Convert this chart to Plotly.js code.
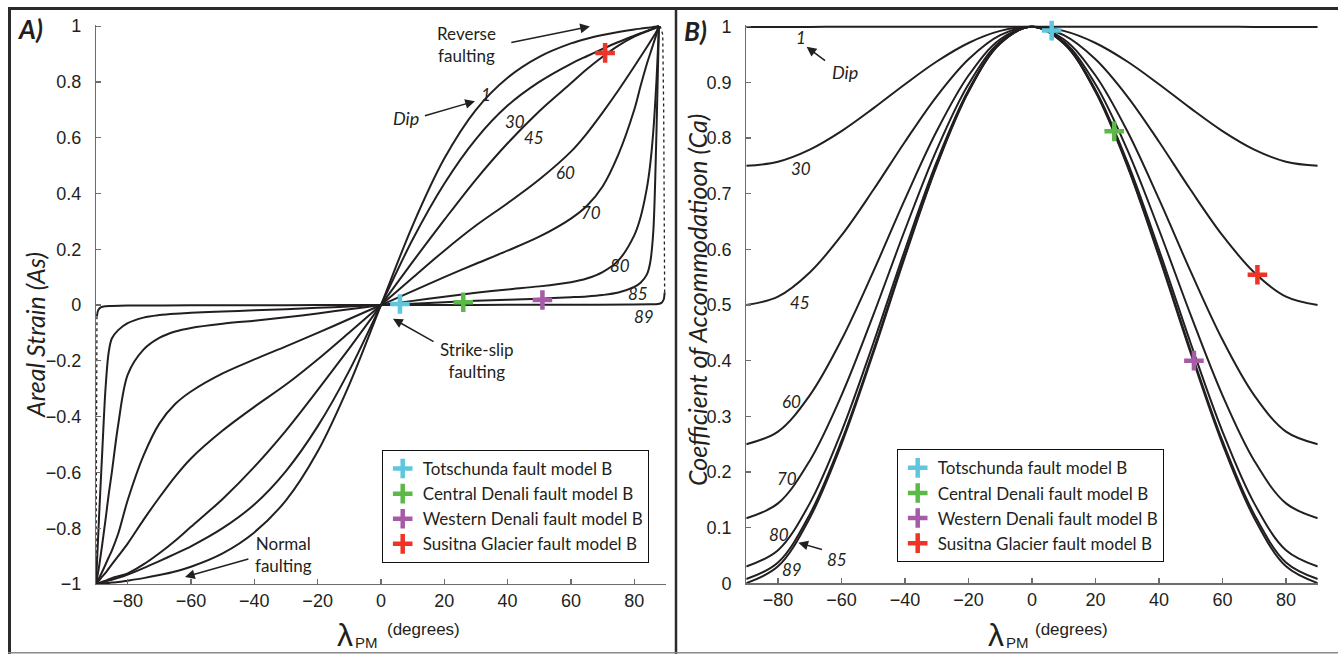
<!DOCTYPE html>
<html><head><meta charset="utf-8">
<script src="https://cdn.plot.ly/plotly-3.0.1.min.js"></script>
<style>html,body{margin:0;padding:0;background:#fff}#chart{width:1338px;height:654px}</style>
</head><body><div id="chart"></div>
<script>
// ---------- data ----------
const dipLabels = ["1", "30", "45", "60", "70", "80", "85", "89"];

// Panel A : areal strain As vs lambda_PM
const lamA = [-90,-89,-88,-87,-86,-85,-83,-80,-75,-70,-65,-60,-50,-40,-30,-20,-10,0,
              10,20,30,40,50,60,65,70,75,80,82,84,85,86,87,87.8];
const asDip1  = [-1,-0.999,-0.998,-0.997,-0.996,-0.995,-0.993,-0.988,-0.979,-0.968,-0.955,-0.938,-0.89,-0.815,-0.70,-0.525,-0.285,0,
                 0.285,0.525,0.70,0.815,0.89,0.938,0.955,0.968,0.979,0.988,0.991,0.994,0.995,0.997,0.999,1];
const asDip30 = [-1,-0.997,-0.994,-0.991,-0.988,-0.985,-0.978,-0.966,-0.943,-0.918,-0.892,-0.865,-0.80,-0.715,-0.595,-0.435,-0.235,0,
                 0.235,0.435,0.595,0.715,0.80,0.865,0.892,0.918,0.943,0.966,0.975,0.983,0.987,0.991,0.996,1];
const asDip45 = [-1,-0.996,-0.992,-0.988,-0.984,-0.979,-0.972,-0.962,-0.93,-0.89,-0.845,-0.795,-0.695,-0.58,-0.45,-0.305,-0.155,0,
                 0.155,0.305,0.45,0.58,0.695,0.795,0.845,0.89,0.93,0.962,0.972,0.981,0.986,0.99,0.995,1];
const asDip60 = [-1,-0.987,-0.973,-0.96,-0.945,-0.93,-0.90,-0.855,-0.77,-0.69,-0.615,-0.55,-0.45,-0.365,-0.285,-0.195,-0.098,0,
                 0.098,0.195,0.285,0.365,0.45,0.55,0.615,0.69,0.77,0.855,0.89,0.925,0.943,0.961,0.98,1];
const asDip70 = [-1,-0.978,-0.955,-0.93,-0.905,-0.88,-0.82,-0.70,-0.54,-0.425,-0.355,-0.31,-0.245,-0.195,-0.148,-0.10,-0.05,0,
                 0.05,0.10,0.148,0.195,0.245,0.31,0.355,0.425,0.54,0.70,0.785,0.865,0.90,0.935,0.97,1];
const asDip80 = [-1,-0.935,-0.855,-0.77,-0.68,-0.60,-0.43,-0.25,-0.16,-0.118,-0.095,-0.082,-0.067,-0.056,-0.044,-0.03,-0.015,0,
                 0.015,0.03,0.044,0.056,0.067,0.082,0.095,0.118,0.16,0.25,0.315,0.42,0.50,0.62,0.80,1];
const asDip85 = [-1,-0.75,-0.52,-0.30,-0.17,-0.12,-0.09,-0.065,-0.045,-0.036,-0.031,-0.028,-0.023,-0.019,-0.015,-0.01,-0.005,0,
                 0.005,0.01,0.015,0.019,0.023,0.028,0.031,0.036,0.045,0.065,0.08,0.11,0.15,0.26,0.61,1];
// dip 89: flat part, plus the two near-vertical (dotted) ends
const lam89  = [-89.7,-89.3,-88.5,-87,-85,-80,-60,-40,-20,0,20,40,60,80,85,87.5,88.6,89.3,89.6];
const asDip89 = [-0.04,-0.018,-0.008,-0.004,-0.003,-0.002,-0.001,-0.001,0,0,0,0.001,0.001,0.002,0.003,0.004,0.008,0.02,0.045];
const lam89Left  = [-89.7,-89.8,-89.9,-90];
const as89Left   = [-0.04,-0.35,-0.7,-1];
const lam89Right = [89.6,89.5,89.3,89.0,88.2];
const as89Right  = [0.045,0.35,0.7,0.97,1];

// Panel B : coefficient of accommodation Ca vs lambda_PM
const lamB = [-90,-80,-70,-60,-50,-40,-30,-20,-10,0,10,20,30,40,50,60,70,80,90];
const caDip1  = [0.9997,0.9997,0.9997,0.9998,0.9998,0.9999,0.9999,1,1,1,1,1,0.9999,0.9999,0.9998,0.9998,0.9997,0.9997,0.9997];
const caDip30 = [0.75,0.7575,0.7792,0.8125,0.8533,0.8967,0.9375,0.9708,0.9925,1,0.9925,0.9708,0.9375,0.8967,0.8533,0.8125,0.7792,0.7575,0.75];
const caDip45 = [0.5,0.5151,0.5585,0.625,0.7066,0.7934,0.875,0.9415,0.9849,1,0.9849,0.9415,0.875,0.7934,0.7066,0.625,0.5585,0.5151,0.5];
const caDip60 = [0.25,0.2726,0.3377,0.4375,0.5599,0.6901,0.8125,0.9123,0.9774,1,0.9774,0.9123,0.8125,0.6901,0.5599,0.4375,0.3377,0.2726,0.25];
const caDip70 = [0.117,0.1436,0.2203,0.3377,0.4818,0.6352,0.7792,0.8967,0.9734,1,0.9734,0.8967,0.7792,0.6352,0.4818,0.3377,0.2203,0.1436,0.117];
const caDip80 = [0.0302,0.0594,0.1436,0.2726,0.4309,0.5993,0.7575,0.8865,0.9708,1,0.9708,0.8865,0.7575,0.5993,0.4309,0.2726,0.1436,0.0594,0.0302];
const caDip85 = [0.0076,0.0375,0.1237,0.2557,0.4176,0.59,0.7519,0.8839,0.9701,1,0.9701,0.8839,0.7519,0.59,0.4176,0.2557,0.1237,0.0375,0.0076];
const caDip89 = [0.0003,0.0305,0.1173,0.2502,0.4133,0.5869,0.7501,0.8831,0.9699,1,0.9699,0.8831,0.7501,0.5869,0.4133,0.2502,0.1173,0.0305,0.0003];

// fault models (plus markers)
const faultNames = ["Totschunda fault model B","Central Denali fault model B","Western Denali fault model B","Susitna Glacier fault model B"];
const faultLamA = [6.0, 26.0, 51.0, 70.8];
const faultAs   = [0.004, 0.01, 0.018, 0.904];
const faultLamB = [6.2, 25.9, 51.0, 71.0];
const faultCa   = [0.993, 0.812, 0.400, 0.5545];

// ---------- styling ----------
const W = 1338, H = 654;
const px = x => x / W, py = y => 1 - y / H;
const INK = '#231f20';
const faultColors = ['#5fc6df', '#5cb947', '#a65ba6', '#ee3426'];
const lab = 'Lato, "Open Sans", sans-serif';
const helv = '"Liberation Sans", Arial, Helvetica, sans-serif';

const curveLine = {color: INK, width: 2, shape: 'spline', smoothing: 0.9};
const traces = [];
const aSeries = [asDip1, asDip30, asDip45, asDip60, asDip70, asDip80, asDip85];
aSeries.forEach(ys => traces.push({x: lamA, y: ys, xaxis: 'x', yaxis: 'y', mode: 'lines',
  line: curveLine, showlegend: false, hoverinfo: 'skip'}));
traces.push({x: lam89, y: asDip89, xaxis: 'x', yaxis: 'y', mode: 'lines', line: curveLine, showlegend: false, hoverinfo: 'skip'});
traces.push({x: lam89Left, y: as89Left, xaxis: 'x', yaxis: 'y', mode: 'lines', line: {color: INK, width: 1.3, dash: 'dot'}, showlegend: false, hoverinfo: 'skip'});
traces.push({x: lam89Right, y: as89Right, xaxis: 'x', yaxis: 'y', mode: 'lines', line: {color: INK, width: 1.3, dash: 'dot'}, showlegend: false, hoverinfo: 'skip'});

const bSeries = [caDip1, caDip30, caDip45, caDip60, caDip70, caDip80, caDip85, caDip89];
bSeries.forEach(ys => traces.push({x: lamB, y: ys, xaxis: 'x2', yaxis: 'y2', mode: 'lines',
  line: {color: INK, width: 2, shape: 'spline', smoothing: 1}, showlegend: false, hoverinfo: 'skip'}));

faultNames.forEach((n, i) => {
  const mk = {symbol: 'cross-thin', size: 14, line: {color: faultColors[i], width: 4.5}, color: faultColors[i]};
  traces.push({x: [faultLamA[i]], y: [faultAs[i]], xaxis: 'x', yaxis: 'y', mode: 'markers', name: n,
    marker: mk, legend: 'legend', showlegend: true, cliponaxis: false});
  traces.push({x: [faultLamB[i]], y: [faultCa[i]], xaxis: 'x2', yaxis: 'y2', mode: 'markers', name: n,
    marker: mk, legend: 'legend2', showlegend: true, cliponaxis: false});
});

const axisCommon = {
  showline: true, linecolor: '#6d6d6d', linewidth: 1.2, ticks: 'inside', ticklen: 5, tickwidth: 1.2,
  tickcolor: '#6d6d6d', showgrid: false, zeroline: false, tickfont: {family: helv, size: 18, color: INK},
  fixedrange: true
};
const xTicks = [-80,-60,-40,-20,0,20,40,60,80];
const xTickText = ['\u221280','\u221260','\u221240','\u221220','0','20','40','60','80'];

const layout = {
  width: W, height: H, margin: {l: 0, r: 0, t: 0, b: 0}, paper_bgcolor: '#fff', plot_bgcolor: 'rgba(0,0,0,0)',
  xaxis: Object.assign({}, axisCommon, {domain: [px(96), px(665.9)], range: [-90, 90], anchor: 'y',
    tickvals: xTicks, ticktext: xTickText}),
  yaxis: Object.assign({}, axisCommon, {domain: [py(584), py(25)], range: [-1, 1.004], anchor: 'x',
    tickvals: [-1,-0.8,-0.6,-0.4,-0.2,0,0.2,0.4,0.6,0.8,1],
    ticktext: ['\u22121','\u22120.8','\u22120.6','\u22120.4','\u22120.2','0','0.2','0.4','0.6','0.8','1'],
    ticklabelstandoff: 10}),
  xaxis2: Object.assign({}, axisCommon, {domain: [px(746.25), px(1317.75)], range: [-90, 90], anchor: 'y2',
    tickvals: xTicks, ticktext: xTickText}),
  yaxis2: Object.assign({}, axisCommon, {domain: [py(583.3), py(24.5)], range: [0, 1.004], anchor: 'x2',
    tickvals: [0,0.1,0.2,0.3,0.4,0.5,0.6,0.7,0.8,0.9,1],
    ticktext: ['0','0.1','0.2','0.3','0.4','0.5','0.6','0.7','0.8','0.9','1'],
    ticklabelstandoff: 10}),
  legend: {x: px(381.7), y: py(450), xanchor: 'left', yanchor: 'top', bgcolor: '#fff', bordercolor: '#111',
    borderwidth: 1, font: {family: lab, size: 17, color: INK}, tracegroupgap: 0, itemsizing: 'trace'},
  legend2: {x: px(896.7), y: py(449.3), xanchor: 'left', yanchor: 'top', bgcolor: '#fff', bordercolor: '#111',
    borderwidth: 1, font: {family: lab, size: 17, color: INK}, tracegroupgap: 0, itemsizing: 'trace'},
  shapes: [
    {type: 'line', xref: 'paper', yref: 'paper', x0: px(8), x1: 1, y0: py(8.5), y1: py(8.5), line: {color: '#2b2b2b', width: 3}},
    {type: 'line', xref: 'paper', yref: 'paper', x0: px(9.5), x1: px(9.5), y0: py(8), y1: py(654), line: {color: '#2b2b2b', width: 3}},
    {type: 'line', xref: 'paper', yref: 'paper', x0: px(676), x1: px(676), y0: py(8), y1: py(654), line: {color: '#2b2b2b', width: 2.5}},
    {type: 'line', xref: 'paper', yref: 'paper', x0: px(8), x1: 1, y0: py(652.8), y1: py(652.8), line: {color: '#8a8a8a', width: 1.5}}
  ],
  annotations: []
};

const A = layout.annotations;
const txt = (x, y, t, size, xr, yr, extra) => A.push(Object.assign({x, y, xref: xr, yref: yr, text: t, showarrow: false,
  font: {family: lab, size: size, color: INK}, xanchor: 'center', yanchor: 'middle'}, extra || {}));
const arrow = (hx, hy, tx, ty, xr, yr) => A.push({x: hx, y: hy, ax: tx, ay: ty, xref: xr, yref: yr, axref: xr, ayref: yr,
  text: '', showarrow: true, arrowhead: 2, arrowsize: 1.3, arrowwidth: 1.5, arrowcolor: INK, standoff: 0});

// panel letters
txt(px(30), py(29), '<b><i>A)</i></b>', 26, 'paper', 'paper');
txt(px(695), py(31), '<b><i>B)</i></b>', 26, 'paper', 'paper');

// axis titles
txt(px(35), py(335), '<i>Areal Strain (As)</i>', 25, 'paper', 'paper', {textangle: -90});
txt(px(697), py(300), '<i>Coefficient of Accommodatioon (Ca)</i>', 25, 'paper', 'paper', {textangle: -90});
[[345, 366, 423], [996, 1017, 1071]].forEach(p => {
  A.push({x: px(p[0]), y: py(635), xref: 'paper', yref: 'paper', text: '\u03bb', showarrow: false,
    font: {family: helv, size: 32, color: INK}, xanchor: 'center', yanchor: 'middle'});
  A.push({x: px(p[1]), y: py(642), xref: 'paper', yref: 'paper', text: 'PM', showarrow: false,
    font: {family: helv, size: 15, color: INK}, xanchor: 'center', yanchor: 'middle'});
  A.push({x: px(p[2]), y: py(629), xref: 'paper', yref: 'paper', text: '(degrees)', showarrow: false,
    font: {family: helv, size: 17, color: INK}, xanchor: 'center', yanchor: 'middle'});
});

// panel A labels
txt(27.1, 0.934, 'Reverse<br>faulting', 17, 'x', 'y');
arrow(66.0, 0.999, 40.7, 0.94, 'x', 'y');
txt(7.9, 0.671, '<i>Dip</i>', 18, 'x', 'y');
arrow(29.7, 0.731, 13.4, 0.677, 'x', 'y');
const aLabelPos = [[33.2,0.755],[42.3,0.659],[48.3,0.600],[58.4,0.474],[66.3,0.331],[75.5,0.141],[81.3,0.042],[83.1,-0.042]];
aLabelPos.forEach((p, i) => txt(p[0], p[1], '<i>' + dipLabels[i] + '</i>', 17, 'x', 'y'));
txt(30.2, -0.199, 'Strike-slip<br>faulting', 17, 'x', 'y');
arrow(3.8, -0.049, 17.1, -0.134, 'x', 'y');
txt(-30.9, -0.894, 'Normal<br>faulting', 17, 'x', 'y');
arrow(-61.9, -0.975, -41.4, -0.909, 'x', 'y');

// panel B labels
txt(-72.8, 0.980, '<i>1</i>', 17, 'x2', 'y2');
txt(-58.9, 0.919, '<i>Dip</i>', 18, 'x2', 'y2');
arrow(-71.0, 0.964, -64.7, 0.937, 'x2', 'y2');
const bLabelPos = [null,[-72.8,0.746],[-73.1,0.505],[-75.6,0.326],[-77.2,0.189],[-79.7,0.087],[-61.4,0.042],[-75.6,0.024]];
bLabelPos.forEach((p, i) => { if (p) txt(p[0], p[1], '<i>' + dipLabels[i] + '</i>', 17, 'x2', 'y2'); });
arrow(-73.6, 0.073, -65.7, 0.060, 'x2', 'y2');

Plotly.newPlot('chart', traces, layout, {displayModeBar: false, staticPlot: true});
</script>
</body></html>
